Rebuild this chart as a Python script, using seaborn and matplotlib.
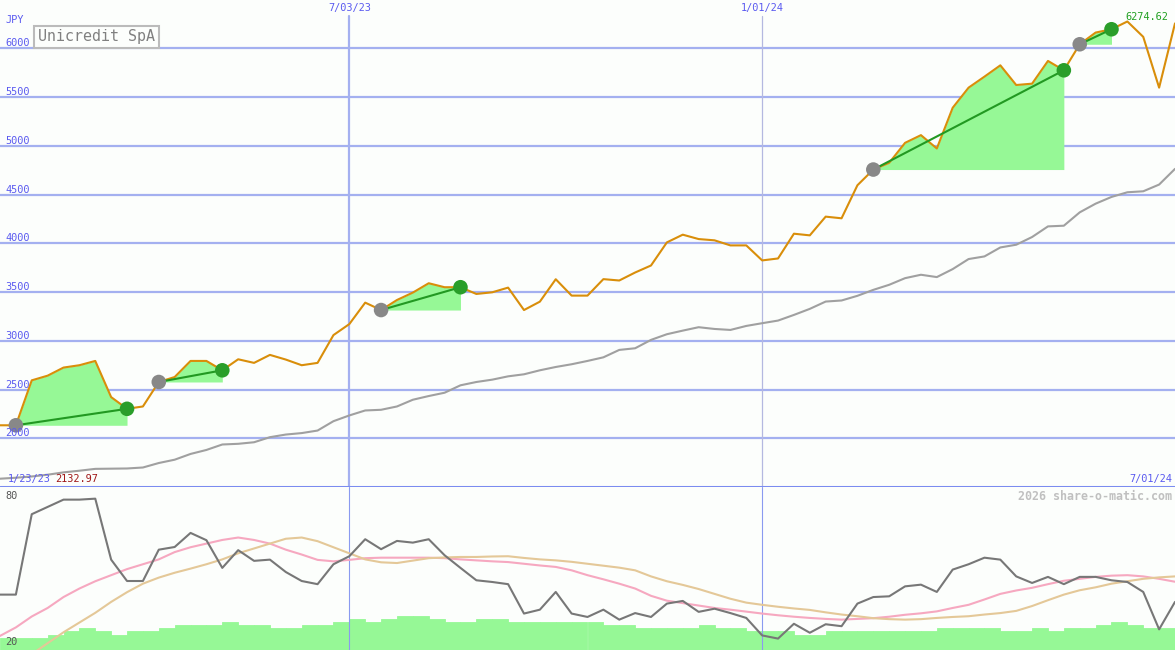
import matplotlib
matplotlib.use('Agg')
import matplotlib.pyplot as plt
import seaborn as sns
import pandas as pd
import numpy as np

# weekly closes, Unicredit SpA (JPY)
dates = pd.date_range('2023-01-30', periods=75, freq='7D')
price = [2132.97, 2133, 2594, 2642, 2725, 2749, 2793, 2422, 2302, 2326,
         2577, 2628, 2793, 2793, 2697, 2810, 2773, 2855, 2807, 2749,
         2773, 3058, 3171, 3391, 3315, 3418, 3494, 3590, 3549, 3549,
         3480, 3497, 3545, 3315, 3401, 3631, 3463, 3463, 3632, 3618,
         3700, 3772, 4009, 4088, 4043, 4030, 3978, 3978, 3824, 3844,
         4098, 4081, 4273, 4256, 4595, 4756, 4825, 5030, 5109, 4972,
         5390, 5596, 5709, 5825, 5623, 5637, 5870, 5774, 6041, 6161,
         6195, 6274.62, 6117, 5596, 6255]
mavg = [1585, 1595, 1608, 1626, 1650, 1667, 1686, 1688, 1690, 1700,
        1746, 1780, 1839, 1880, 1936, 1943, 1959, 2011, 2038, 2053,
        2079, 2175, 2234, 2285, 2292, 2326, 2395, 2433, 2467, 2543,
        2577, 2601, 2635, 2656, 2697, 2731, 2759, 2793, 2830, 2906,
        2923, 3009, 3067, 3104, 3139, 3121, 3111, 3152, 3180, 3207,
        3265, 3327, 3402, 3413, 3461, 3522, 3574, 3642, 3677, 3653,
        3735, 3838, 3865, 3957, 3985, 4064, 4173, 4180, 4317, 4406,
        4475, 4523, 4533, 4602, 4763]

# trades: buy / sell week indices
buys = [1, 10, 24, 55, 68]
sells = [8, 14, 29, 67, 70]

# oscillator panel
osc = [39.5, 39.5, 72.6, 75.6, 78.6, 78.6, 79.0, 53.9, 45.1, 45.1,
       58.0, 59.1, 64.9, 61.9, 50.5, 57.8, 53.4, 53.9, 48.8, 45.1,
       43.8, 52.0, 55.3, 62.3, 58.2, 61.6, 60.9, 62.3, 55.7, 50.5,
       45.4, 44.7, 43.8, 31.7, 33.3, 40.6, 31.7, 30.3, 33.3, 29.2,
       31.9, 30.3, 35.8, 36.9, 32.4, 33.7, 31.9, 29.9, 22.7, 21.4,
       27.5, 23.8, 27.3, 26.5, 35.8, 38.5, 38.8, 42.9, 43.6, 40.6,
       49.8, 52.0, 54.7, 53.9, 47.0, 44.3, 46.8, 43.8, 46.8, 46.8,
       45.4, 44.7, 40.6, 25.2, 36.5]
osc_fast = [22.5, 26, 30.5, 34, 38.5, 42, 45, 47.5, 50, 52,
            54, 57, 59, 60.5, 62, 63, 62, 60.5, 58, 56,
            53.8, 53.2, 53.8, 54.5, 54.7, 54.7, 54.7, 54.7, 54.5, 54,
            53.6, 53.2, 52.9, 52.2, 51.5, 50.9, 49.5, 47.5, 45.8, 44,
            42, 39, 37, 36, 35, 34, 33.3, 32.5, 31.7, 31,
            30.4, 29.9, 29.5, 29.2, 29.5, 29.8, 30.4, 31.2, 31.8, 32.6,
            34, 35.3, 37.5, 39.8, 41.2, 42.3, 43.8, 45.2, 46, 46.8,
            47.3, 47.5, 47, 46, 44.8]
osc_slow = [6, 10, 15, 19.5, 24, 28, 32, 36.5, 40.5, 44,
            46.5, 48.5, 50.2, 52, 54, 56.5, 58.5, 60.5, 62.5, 63,
            61.5, 59, 56.5, 54, 52.8, 52.5, 53.5, 54.5, 54.8, 55,
            55, 55.2, 55.3, 54.6, 54, 53.6, 53, 52.2, 51.4, 50.6,
            49.5, 47, 45, 43.5, 41.8, 39.8, 37.8, 36.2, 35.3, 34.5,
            33.8, 33.2, 32.2, 31.3, 30.6, 29.8, 29.4, 29.2, 29.4, 29.9,
            30.3, 30.6, 31.3, 31.9, 32.8, 34.8, 37.2, 39.5, 41.3, 42.5,
            44, 45, 46, 46.6, 47]
volume = [9.1, 9.1, 9.1, 11.3, 13.7, 16.2, 13.7, 11.3, 14.0, 14.0,
          16.2, 18.7, 18.7, 18.7, 20.6, 18.7, 18.7, 16.2, 16.2, 18.7,
          18.7, 20.6, 22.8, 20.6, 22.8, 25.0, 25.0, 22.8, 20.6, 20.6,
          22.8, 22.8, 20.6, 20.6, 20.6, 20.6, 20.6, 20.6, 18.7, 18.7,
          16.2, 16.2, 16.2, 16.2, 18.7, 16.2, 16.2, 14.0, 14.0, 14.0,
          11.3, 11.3, 14.0, 14.0, 14.0, 14.0, 14.0, 14.0, 14.0, 16.2,
          16.2, 16.2, 16.2, 14.0, 14.0, 16.2, 14.0, 16.2, 16.2, 18.7,
          20.6, 18.7, 16.2, 16.2]

price_levels = [2000, 2500, 3000, 3500, 4000, 4500, 5000, 5500, 6000]

BG = '#fcfefc'
GRID = '#a4b0f0'
BLUE = '#5a5af0'
ORANGE = '#d98e0a'
FILL = '#96f896'
GREEN = '#229922'

sns.set_style('white')
plt.rcParams['font.family'] = ['DejaVu Sans Mono']

fig = plt.figure(figsize=(11.75, 6.5), dpi=100, facecolor=BG)
ax = fig.add_axes([0, 163 / 650, 1, 487 / 650])
axv = fig.add_axes([0, 0, 1, 163 / 650])
axo = fig.add_axes([0, 0, 1, 163 / 650], sharex=axv)

for a in (ax, axv, axo):
    a.set_facecolor(BG)
    for s in a.spines.values():
        s.set_visible(False)
axo.patch.set_visible(False)

# ---- price panel ----
for lv in price_levels:
    ax.axhline(lv, color=GRID, lw=1.6, zorder=0.5)
    ax.text(5 / 1175, lv, str(lv), transform=ax.get_yaxis_transform(),
            color=BLUE, fontsize=7.4, va='bottom', ha='left', zorder=6)
ax.axhline(1500, color='#7b8cf0', lw=2.2, zorder=6, clip_on=False)
ax.axvline(dates[22], ymax=1 - 16 / 487, color=GRID, lw=1.6, zorder=0.5)
ax.axvline(dates[48], ymax=1 - 16 / 487, color='#b4b8e0', lw=0.9, zorder=0.5)

price_arr = np.array(price)
for b, s in zip(buys, sells):
    ax.fill_between(dates[b:s + 1], price_arr[b], price_arr[b:s + 1],
                    color=FILL, lw=0, zorder=1)

sns.lineplot(x=dates, y=mavg, ax=ax, color='#a0a0a0', lw=1.5, zorder=2)
sns.lineplot(x=dates, y=price, ax=ax, color=ORANGE, lw=1.5, zorder=3)

for b, s in zip(buys, sells):
    ax.plot([dates[b], dates[s]], [price[b], price[s]], color=GREEN, lw=1.5, zorder=4)
sns.scatterplot(x=dates[buys], y=price_arr[buys], ax=ax, color='#888888',
                s=110, edgecolor='none', zorder=5)
sns.scatterplot(x=dates[sells], y=price_arr[sells], ax=ax, color='#2a9e2a',
                s=110, edgecolor='none', zorder=5)

ax.set_xlim(dates[0], dates[-1])
ax.set_ylim(1500, 6495)
ax.set(xlabel='', ylabel='', xticks=[], yticks=[])

tx = ax.get_xaxis_transform()
ax.text(dates[22], 1 - 8 / 487, '7/03/23', transform=tx, color=BLUE,
        fontsize=7.4, ha='center', va='center')
ax.text(dates[48], 1 - 8 / 487, '1/01/24', transform=tx, color=BLUE,
        fontsize=7.4, ha='center', va='center')
ax.text(5 / 1175, 1 - 20 / 487, 'JPY', transform=ax.transAxes, color=BLUE,
        fontsize=7.4, ha='left', va='center')
ax.text(38 / 1175, 1 - 37 / 487, 'Unicredit SpA', transform=ax.transAxes,
        color='#808080', fontsize=10.8, ha='left', va='center', zorder=7,
        bbox=dict(boxstyle='square,pad=0.25', facecolor=BG, edgecolor='#bbbbbb', lw=1.5))
ax.text(8 / 1175, 8 / 487, '1/23/23', transform=ax.transAxes, color=BLUE,
        fontsize=7.4, ha='left', va='center', zorder=6)
ax.text(55 / 1175, 8 / 487, f'{price[0]:.2f}', transform=ax.transAxes,
        color='#a01818', fontsize=7.4, ha='left', va='center', zorder=6)
ax.text(1 - 3 / 1175, 8 / 487, '7/01/24', transform=ax.transAxes, color=BLUE,
        fontsize=7.4, ha='right', va='center', zorder=6)
imax = int(np.argmax(price_arr))
ax.annotate(f'{price[imax]:.2f}', (dates[imax], price[imax]), xytext=(-2, 4),
            textcoords='offset pixels', color='#22a022', fontsize=7.4,
            ha='left', va='center', zorder=6)

# ---- oscillator panel ----
axv.bar(dates[:-1], volume, width=7, align='edge', color=FILL,
        edgecolor=FILL, lw=0.6)
axv.set_ylim(0, 120)
axv.set_xlim(dates[0], dates[-1])
axv.set(xticks=[], yticks=[])

axo.axvline(dates[22], color='#8a9af0', lw=0.8, zorder=0.5)
axo.axvline(dates[48], color='#8a9af0', lw=0.8, zorder=0.5)
sns.lineplot(x=dates, y=osc_fast, ax=axo, color='#f6a8c0', lw=1.5, zorder=2)
sns.lineplot(x=dates, y=osc_slow, ax=axo, color='#e4c898', lw=1.5, zorder=2)
sns.lineplot(x=dates, y=osc, ax=axo, color='#777777', lw=1.5, zorder=3)
axo.set_xlim(dates[0], dates[-1])
axo.set_ylim(16.7, 83.8)
axo.set(xlabel='', ylabel='', xticks=[], yticks=[])
ty = axo.get_yaxis_transform()
axo.text(5 / 1175, 80, '80', transform=ty, color='#555555', fontsize=7.4,
         ha='left', va='center')
axo.text(5 / 1175, 20, '20', transform=ty, color='#555555', fontsize=7.4,
         ha='left', va='center')
axo.text(1 - 3 / 1175, 1 - 9 / 163, '2026 share-o-matic.com', transform=axo.transAxes,
         color='#c0c0c0', fontsize=8.4, fontweight='bold', ha='right', va='center')

fig.savefig('out.png', dpi=100, facecolor=BG)
